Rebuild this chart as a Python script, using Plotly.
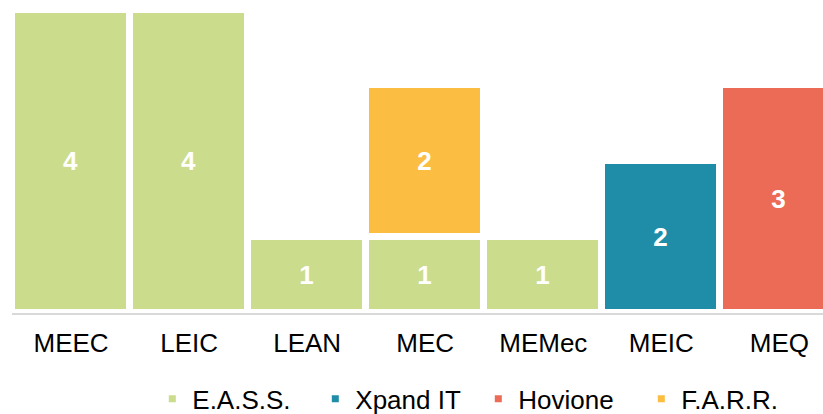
import plotly.graph_objects as go

categories = ["MEEC", "LEIC", "LEAN", "MEC", "MEMec", "MEIC", "MEQ"]
eass = [4, 4, 1, 1, 1, None, None]
xpand = [None, None, None, None, None, 2, None]
hovione = [None, None, None, None, None, None, 3]
farr = [None, None, None, 2, None, None, None]

series = [
    ("E.A.S.S.", eass, "#CBDC8C"),
    ("Xpand IT", xpand, "#1F8DA7"),
    ("Hovione", hovione, "#EC6B57"),
    ("F.A.R.R.", farr, "#FBBE43"),
]

FONT = "Liberation Sans, Arial, sans-serif"

fig = go.Figure()
for name, vals, color in series:
    fig.add_trace(go.Bar(
        x=categories, y=vals, name=name,
        marker=dict(color=color, line=dict(color="white", width=7)),
        text=vals, texttemplate="%{y}", textposition="inside",
        insidetextanchor="middle", textangle=0,
        textfont=dict(family=FONT, size=26, color="white", weight="bold"),
        hoverinfo="skip",
    ))

fig.update_layout(
    width=823, height=414,
    barmode="stack", bargap=0,
    margin=dict(l=12, r=0, t=2, b=101, autoexpand=False),
    paper_bgcolor="white", plot_bgcolor="white",
    font=dict(family=FONT, size=26, color="#000000"),
    showlegend=True,
    legend=dict(orientation="h", traceorder="normal",
                x=0.173, xanchor="left", y=-0.276, yanchor="middle",
                entrywidth=118,
                font=dict(family=FONT, size=26, color="#000000"),
                itemclick=False),
    xaxis=dict(range=[-0.5, 6.369], showgrid=False, zeroline=False,
               showline=True, linecolor="#D9D9D9", linewidth=2,
               ticks="outside", ticklen=6, tickcolor="rgba(0,0,0,0)",
               tickfont=dict(family=FONT, size=26, color="#000000")),
    yaxis=dict(range=[0, 4.1], visible=False, showgrid=False, zeroline=False),
)

fig.write_html("out.html", config={"displayModeBar": False},
               post_script="document.body.style.margin='0';document.body.style.overflow='hidden';")
